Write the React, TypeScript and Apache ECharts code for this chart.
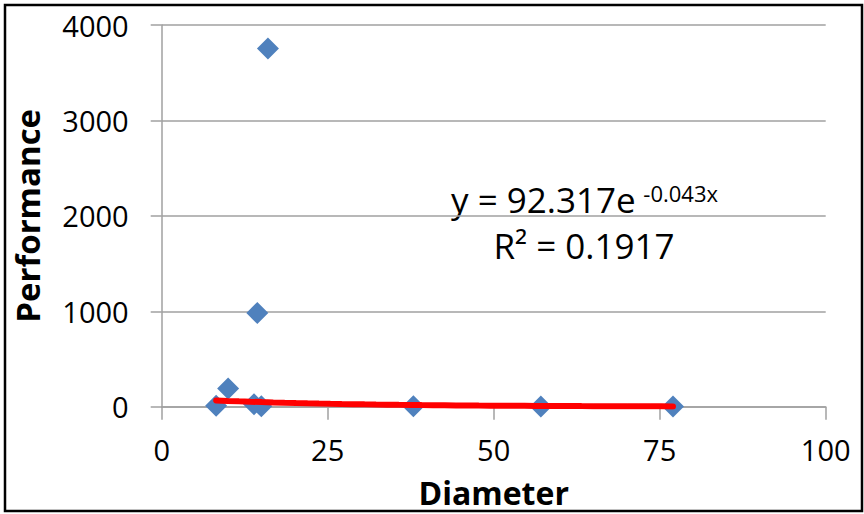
import React, { useEffect, useRef } from "react";
import * as echarts from "echarts";

const diameters = [8.2, 10.0, 13.9, 14.4, 15.0, 16.0, 37.9, 57.1, 77.0];
const performance = [10, 190, 25, 982, 5, 3755, 4, 2, 1];
const xTicks = [0, 25, 50, 75, 100];
const yTicks = [0, 1000, 2000, 3000, 4000];
const trendA = 92.317;
const trendB = -0.043;
const trendLabel = "y = 92.317e";
const trendExponent = "-0.043x";
const r2Label = "R² = 0.1917";

export default function App() {
  const ref = useRef<HTMLDivElement>(null);
  useEffect(() => {
    if (!ref.current) return;
    const chart = echarts.init(ref.current, null, { renderer: "svg" });
    const xMin = Math.min(...diameters);
    const xMax = Math.max(...diameters);
    const trend: number[][] = [];
    const steps = 40;
    for (let i = 0; i <= steps; i++) {
      const x = xMin + ((xMax - xMin) * i) / steps;
      trend.push([x, trendA * Math.exp(trendB * x)]);
    }
    const font = "Open Sans";
    chart.setOption({
      animation: false,
      backgroundColor: "#ffffff",
      grid: { left: 161.7, right: 38.3, top: 25, bottom: 107.3 },
      xAxis: {
        type: "value",
        min: xTicks[0],
        max: xTicks[xTicks.length - 1],
        interval: 25,
        name: "Diameter",
        nameLocation: "middle",
        nameGap: 70,
        nameTextStyle: { fontFamily: font, fontWeight: "bold", fontSize: 32, color: "#000" },
        axisLine: { show: true, lineStyle: { color: "#A0A0A0", width: 1.5 } },
        axisTick: { show: true, length: 13, lineStyle: { color: "#A0A0A0", width: 1.5 } },
        axisLabel: { fontFamily: font, fontSize: 29, color: "#000", margin: 28 },
        splitLine: { show: false },
      },
      yAxis: {
        type: "value",
        min: yTicks[0],
        max: yTicks[yTicks.length - 1],
        interval: 1000,
        name: "Performance",
        nameLocation: "middle",
        nameGap: 118,
        nameTextStyle: { fontFamily: font, fontWeight: "bold", fontSize: 33, color: "#000" },
        axisLine: { show: true, lineStyle: { color: "#A0A0A0", width: 1.5 } },
        axisTick: { show: true, length: 11, lineStyle: { color: "#A0A0A0", width: 1.5 } },
        axisLabel: {
          fontFamily: font,
          fontSize: 29,
          color: "#000",
          margin: 33,
          formatter: (v: number) => String(v),
        },
        splitLine: { show: true, lineStyle: { color: "#A0A0A0", width: 1.5 } },
      },
      series: [
        {
          type: "scatter",
          data: diameters.map((d, i) => [d, performance[i]]),
          symbol: "diamond",
          symbolSize: 22,
          itemStyle: { color: "#4F81BD", opacity: 1 },
          z: 2,
        },
        {
          type: "line",
          data: trend,
          showSymbol: false,
          symbol: "none",
          lineStyle: { color: "#FF0000", width: 6, cap: "round" },
          z: 3,
        },
      ],
      graphic: [
        {
          type: "rect",
          shape: { x: 5, y: 5, width: 857, height: 506 },
          style: { fill: "none", stroke: "#000", lineWidth: 2.5 },
          silent: true,
        },
        {
          type: "text",
          x: 451,
          y: 199,
          style: {
            text: trendLabel,
            fontFamily: font,
            fontSize: 35,
            fill: "#000",
            textAlign: "left",
            textVerticalAlign: "middle",
          },
        },
        {
          type: "text",
          x: 718,
          y: 193,
          style: {
            text: trendExponent,
            fontFamily: font,
            fontSize: 22,
            fill: "#000",
            textAlign: "right",
            textVerticalAlign: "middle",
          },
        },
        {
          type: "text",
          x: 584,
          y: 245,
          style: {
            text: r2Label,
            fontFamily: font,
            fontSize: 35,
            fill: "#000",
            textAlign: "center",
            textVerticalAlign: "middle",
          },
        },
      ],
    });
    return () => chart.dispose();
  }, []);
  return (
    <div
      ref={ref}
      style={{ position: "fixed", left: 0, top: 0, width: 864, height: 514, background: "#fff" }}
    />
  );
}
